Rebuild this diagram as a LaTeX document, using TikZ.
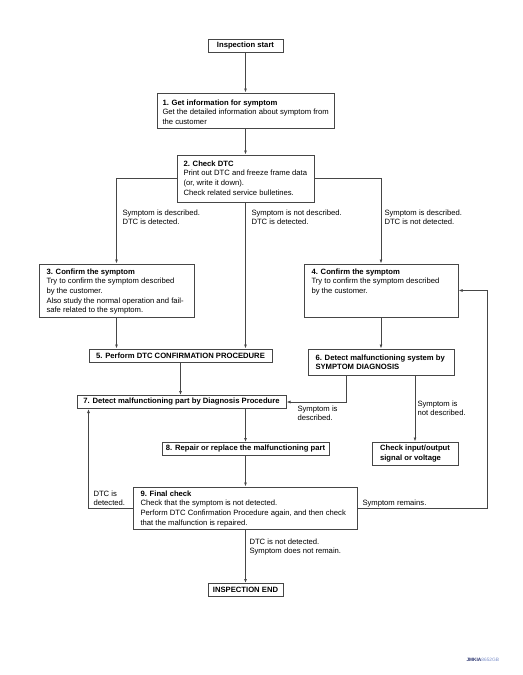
\documentclass[tikz,border=0pt]{standalone}
\usepackage{fontspec}
\setmainfont{Liberation Sans}
\usetikzlibrary{arrows.meta}
\definecolor{linegray}{RGB}{70,70,70}
\definecolor{codenavy}{RGB}{40,50,110}
\definecolor{codeblue}{RGB}{120,140,200}
\tikzset{every picture/.style={line width=0.75pt}}
\tikzset{
  box/.style={draw=linegray, inner sep=0pt, align=center, font=\fontsize{5.75}{7.3}\selectfont\bfseries},
  txt/.style={anchor=north west, inner sep=0pt, align=left, font=\fontsize{5.75}{7.3}\selectfont},
  arr/.style={draw=linegray, -{Latex[length=3pt,width=2.2pt]}}
}
\begin{document}
\begin{tikzpicture}[x=0.75pt,y=0.75pt,yscale=-1,xscale=1]
    \useasboundingbox (0,0) rectangle (522,675);
    %Shape: Rectangle
    \node (start) [box, minimum width=56.25pt, minimum height=9.75pt] at (245.5,45.5) {Inspection start};
    %Shape: Rectangle
    \node (b1) [box, minimum width=132.75pt, minimum height=26.25pt] at (245.5,110.5) {};
    %Shape: Rectangle
    \node (b2) [box, minimum width=102.75pt, minimum height=35.25pt] at (245.5,178.5) {};
    %Shape: Rectangle
    \node (b3) [box, minimum width=116.25pt, minimum height=39.75pt] at (116.5,290.5) {};
    %Shape: Rectangle
    \node (b4) [box, minimum width=115.5pt, minimum height=39.75pt] at (381,290.5) {};
    %Shape: Rectangle
    \node (b5) [box, minimum width=137.25pt, minimum height=9.75pt] at (180.5,355.5) {5. Perform DTC CONFIRMATION PROCEDURE};
    %Shape: Rectangle
    \node (b6) [box, minimum width=109.5pt, minimum height=19.5pt] at (381,362) {};
    %Shape: Rectangle
    \node (b7) [box, minimum width=156.75pt, minimum height=9.75pt] at (181.5,402) {7. Detect malfunctioning part by Diagnosis Procedure};
    %Shape: Rectangle
    \node (b8) [box, minimum width=125.25pt, minimum height=9.75pt] at (245.5,449) {8. Repair or replace the malfunctioning part};
    %Shape: Rectangle
    \node (chk) [box, align=left, minimum width=64.5pt, minimum height=17.25pt] at (415,453.5) {Check input/output\\signal or voltage};
    %Shape: Rectangle
    \node (b9) [box, minimum width=168pt, minimum height=31.5pt] at (245.5,508) {};
    %Shape: Rectangle
    \node (end) [box, minimum width=56.25pt, minimum height=9.75pt] at (245.5,590) {INSPECTION END};
    % Text Node
    \draw (162,99) node [txt] (t1) {\textbf{1. Get information for symptom}\\Get the detailed information about symptom from\\the customer};
    % Text Node
    \draw (183,160) node [txt] (t2) {\textbf{2. Check DTC}\\Print out DTC and freeze frame data\\(or, write it down).\\Check related service bulletines.};
    % Text Node
    \draw (46,268) node [txt] (t3) {\textbf{3. Confirm the symptom}\\Try to confirm the symptom described\\by the customer.\\Also study the normal operation and fail-\\safe related to the symptom.};
    % Text Node
    \draw (311,268) node [txt] (t4) {\textbf{4. Confirm the symptom}\\Try to confirm the symptom described\\by the customer.};
    % Text Node
    \draw (315,354) node [txt, font=\fontsize{5.75}{7.3}\selectfont\bfseries] (t6) {6. Detect malfunctioning system by\\SYMPTOM DIAGNOSIS};
    % Text Node
    \draw (140,490) node [txt] (t9) {\textbf{9. Final check}\\Check that the symptom is not detected.\\Perform DTC Confirmation Procedure again, and then check\\that the malfunction is repaired.};
    % Text Node
    \draw (122,209) node [txt] (l1) {Symptom is described.\\DTC is detected.};
    % Text Node
    \draw (251,209) node [txt] (l2) {Symptom is not described.\\DTC is detected.};
    % Text Node
    \draw (384,209) node [txt] (l3) {Symptom is described.\\DTC is not detected.};
    % Text Node
    \draw (297,405) node [txt] (l4) {Symptom is\\described.};
    % Text Node
    \draw (417,400) node [txt] (l5) {Symptom is\\not described.};
    % Text Node
    \draw (93,490) node [txt] (l6) {DTC is\\detected.};
    % Text Node
    \draw (362,499) node [txt] (l7) {Symptom remains.};
    % Text Node
    \draw (249,538) node [txt] (l8) {DTC is not detected.\\Symptom does not remain.};
    % Text Node
    \draw (466,658) node [txt, font=\fontsize{3.6}{4}\selectfont] (code) {\textcolor{codenavy}{\textbf{JMKIA}}\textcolor{codeblue}{8652GB}};
    % Connectors
    \draw [arr] (start) -- (b1);
    \draw [arr] (b1) -- (b2);
    \draw [arr] (b2.west) -| (b3.north);
    \draw [arr] (b2.east) -| (b4.north);
    \draw [arr] (b2.south) -- (b2.south |- b5.north);
    \draw [arr] (b3.south) -- (b3.south |- b5.north);
    \draw [arr] (b4) -- (b6);
    \draw [arr] (b5.south) -- (b5.south |- b7.north);
    \draw [arr] ([xshift=29.25pt]b6.south west) |- (b7.east);
    \draw [arr] (b6.south -| chk.north) -- (chk.north);
    \draw [arr] (b7.south -| b8.north) -- (b8.north);
    \draw [arr] (b8) -- (b9);
    \draw [arr] (b9.west) -| ([xshift=9pt]b7.south west);
    \coordinate (loop) at (487,0);
    \draw [arr] (b9.east) -| (loop |- b4.east) -- (b4.east);
    \draw [arr] (b9) -- (end);
\end{tikzpicture}
\end{document}
